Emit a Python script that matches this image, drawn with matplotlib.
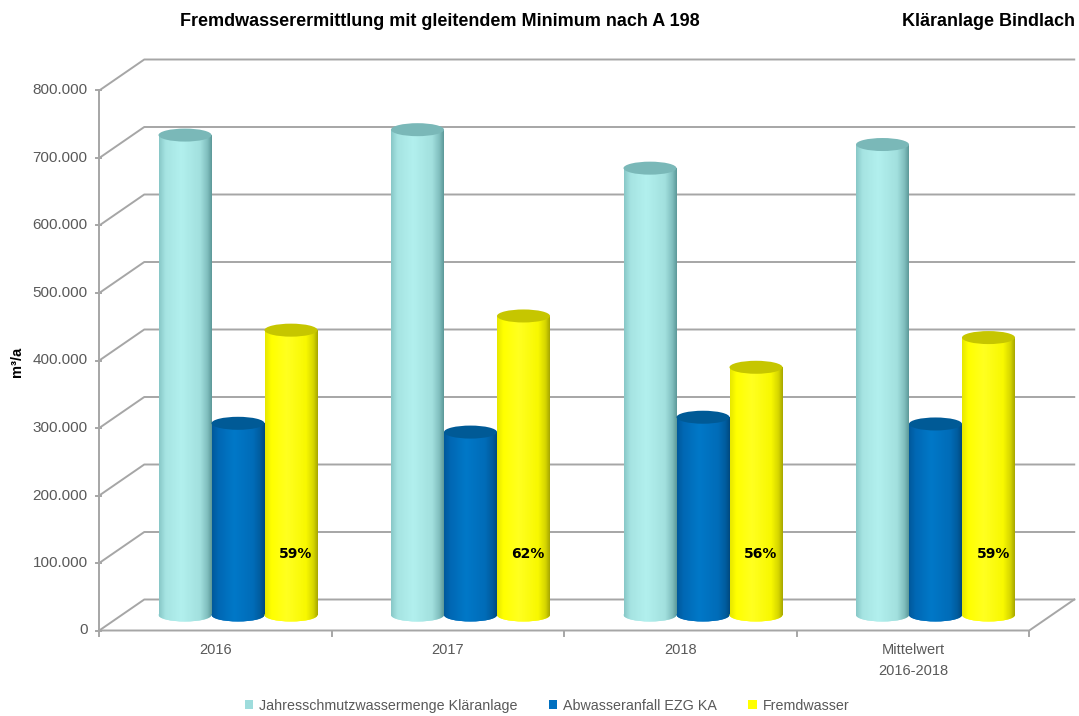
#import libraries
import numpy as np
import matplotlib
matplotlib.use("Agg")
import matplotlib.pyplot as plt
from matplotlib.patches import Ellipse, Patch
from matplotlib.colors import to_rgb

#data
categories = ["2016", "2017", "2018", "Mittelwert\n2016-2018"]
series_names = ["Jahresschmutzwassermenge Kläranlage", "Abwasseranfall EZG KA", "Fremdwasser"]
jahresschmutzwasser = [711000, 719000, 662000, 697000]
abwasseranfall = [284000, 271000, 293000, 283000]
fremdwasser = [422000, 443000, 367000, 411000]
anteil_labels = ["59%", "62%", "56%", "59%"]
yticks = [0, 100000, 200000, 300000, 400000, 500000, 600000, 700000, 800000]
ytick_labels = ["0", "100.000", "200.000", "300.000", "400.000", "500.000",
                "600.000", "700.000", "800.000"]

plt.rcParams['font.family'] = ['Liberation Sans', 'DejaVu Sans']

#figure & pseudo 3d geometry (pixel based)
W, H = 1079, 716
fig = plt.figure(figsize=(W/100, H/100), dpi=100)
ax = fig.add_axes([0, 0, 1, 1])
ax.set_axis_off()

px_cat = 232.5          # pixel per category
px_val = 67.5/100000    # pixel per value unit
x0, y0 = 238, 615       # pixel of category 0 / value 0 at mid depth
DX = 22.5/px_cat        # half depth offset in x
DV = 15.5/px_val        # half depth offset in y

def P(u, v, d):
    return u + d*DX, v + d*DV

grid_c = '#A6A6A6'
txt_c = '#595959'

#walls and grid
for v, lab in zip(yticks, ytick_labels):
    xa, ya = P(-0.5, v, -1)
    xb, yb = P(-0.5, v, 1)
    xc, yc = P(3.5, v, 1)
    ax.plot([xa, xb, xc], [ya, yb, yc], color=grid_c, lw=1.4, zorder=1)
    ax.plot([xa-0.016, xa+0.008], [ya, ya], color=grid_c, lw=1.4, zorder=1)
    ax.text(xa-0.05, ya, lab, ha='right', va='center', fontsize=11, color=txt_c)

xa, ya = P(-0.5, 0, -1)
xt, yt = P(-0.5, 800000, -1)
ax.plot([xa, xt], [ya, yt], color=grid_c, lw=1.4, zorder=1)
xr, yr = P(3.5, 0, -1)
xrb, yrb = P(3.5, 0, 1)
ax.plot([xa, xr, xrb], [ya, yr, yrb], color=grid_c, lw=1.4, zorder=1)
for u in [-0.5, 0.5, 1.5, 2.5, 3.5]:
    xu, yu = P(u, 0, -1)
    ax.plot([xu, xu], [yu, yu-8000], color=grid_c, lw=1.4, zorder=1)

#cylinder colours
stops = [0, 0.12, 0.42, 0.78, 0.92, 1]
shades = [
    ['#88C8C8', '#A6E4E2', '#B2F0EE', '#A2E0DE', '#80BEBE', '#5E9A9A'],
    ['#00599C', '#0068B4', '#0078C8', '#006CB8', '#005C9E', '#004A80'],
    ['#E8E800', '#FFFF00', '#FFFF20', '#F8F800', '#D6D600', '#A8A800'],
]
tops = ['#7AB8B8', '#005A96', '#C6C600']
base = ['#A8E8E6', '#0070C0', '#FFFF00']

def gradient(cols):
    t = np.linspace(0, 1, 80)
    rgb = np.array([to_rgb(c) for c in cols])
    img = np.stack([np.interp(t, stops, rgb[:, k]) for k in range(3)], axis=-1)
    return img[np.newaxis, :, :]

bw = 53/px_cat
eh = 13/px_val
offsets = [-bw, 0, bw]
data = [jahresschmutzwasser, abwasseranfall, fremdwasser]

for s, vals in enumerate(data):
    xs = np.arange(len(categories)) + offsets[s]
    bars = ax.bar(xs, vals, width=bw, color=base[s], linewidth=0, zorder=3+s)
    grad = gradient(shades[s])
    for xb_, v, bar in zip(xs, vals, bars):
        xl, xr_ = xb_-bw/2, xb_+bw/2
        bottom = Ellipse((xb_, 0), bw, eh, facecolor=base[s], lw=0, zorder=2.9+s)
        ax.add_patch(bottom)
        im2 = ax.imshow(grad, extent=(xl, xr_, -eh, eh), aspect='auto',
                        interpolation='bilinear', zorder=2.95+s)
        im2.set_clip_path(bottom)
        im = ax.imshow(grad, extent=(xl, xr_, 0, v), aspect='auto',
                       interpolation='bilinear', zorder=3+s)
        im.set_clip_path(bar)
        ax.add_patch(Ellipse((xb_, v), bw, eh, facecolor=tops[s], lw=0, zorder=3.5+s))

#percent labels
for i, lab in enumerate(anteil_labels):
    ax.text(i + bw + 0.02, 90000, lab, ha='center', va='center', family='DejaVu Sans',
            fontsize=10, fontweight='bold', color='black', zorder=10)

#category labels
for i, c in enumerate(categories):
    xc_, yc_ = P(i, 0, -1)
    ax.text(xc_, yc_-19000, c, ha='center', va='top', fontsize=10.5,
            color=txt_c, linespacing=1.6)

ax.set_xlim(-x0/px_cat, (W-x0)/px_cat)
ax.set_ylim(-(H-y0)/px_val, y0/px_val)

#titles
fig.text(440/W, 1-22/H, "Fremdwasserermittlung mit gleitendem Minimum nach A 198",
         ha='center', va='center', fontsize=13, fontweight='bold')
fig.text(1075/W, 1-22/H, "Kläranlage Bindlach", ha='right', va='center',
         fontsize=13, fontweight='bold')
fig.text(17/W, 1-362/H, "m³/a", rotation=90, ha='center', va='center',
         fontsize=10.5, fontweight='bold')

#legend
handles = [Patch(facecolor=c, edgecolor='none') for c in ['#9EDCDC', '#0070C0', '#FFFF00']]
fig.legend(handles, series_names, loc='center', bbox_to_anchor=(547/W, 1-706/H),
           ncol=3, frameon=False, fontsize=10.3, handlelength=0.6, handleheight=0.6,
           handletextpad=0.4, columnspacing=2.2, labelcolor=txt_c)

plt.savefig("out.png", dpi=100)
